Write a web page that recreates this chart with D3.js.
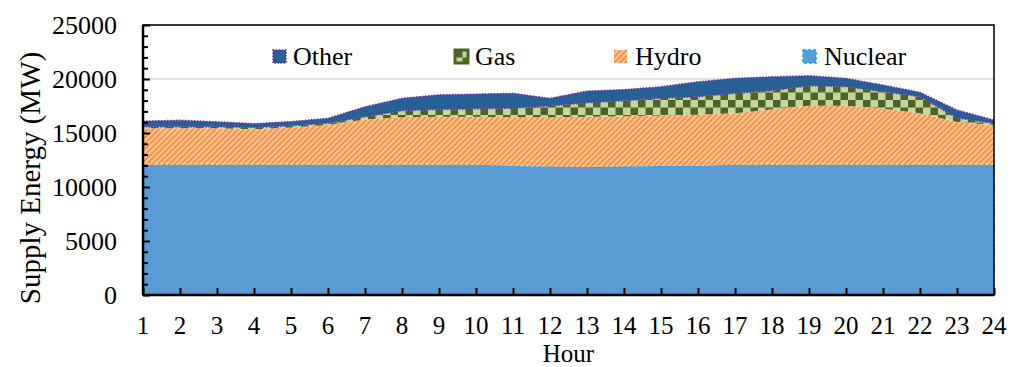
<!DOCTYPE html>
<html>
<head>
<meta charset="utf-8">
<script src="https://cdn.jsdelivr.net/npm/d3@7"></script>
<style>
    body { margin: 0; background: #fff; }
    text { font-family: "Liberation Serif", "Times New Roman", serif; fill: #000; }
</style>
</head>
<body>
<div id="chart"></div>
<script>
// hourly supply by source (MW)
let hours = d3.range(1, 25);
let nuclear = [12050, 12050, 12050, 12050, 12050, 12050, 12050, 12050, 12050, 12050, 11950, 11900,
               11850, 11900, 11950, 11950, 12050, 12050, 12050, 12050, 12050, 12050, 12050, 12050];
let hydro = [3400, 3400, 3400, 3300, 3450, 3700, 4200, 4400, 4450, 4450, 4500, 4550,
             4650, 4650, 4680, 4750, 4770, 5140, 5480, 5480, 5230, 4770, 3970, 3700];
let gas = [130, 130, 130, 160, 160, 150, 250, 620, 680, 740, 840, 1050,
           1300, 1430, 1580, 1660, 1850, 1730, 1850, 1760, 1550, 1540, 370, 150];
let other = [520, 610, 460, 360, 400, 470, 930, 1140, 1360, 1360, 1390, 710,
             1080, 1040, 1080, 1390, 1390, 1290, 930, 770, 610, 410, 740, 300];
let sources = ["Nuclear", "Hydro", "Gas", "Other"];
let yTicks = [0, 5000, 10000, 15000, 20000, 25000];

class SupplyChart {
    constructor(_parentElement) {
        this.parentElement = _parentElement;
        this.data = hours.map((h, i) => ({
            hour: h, Nuclear: nuclear[i], Hydro: hydro[i], Gas: gas[i], Other: other[i]
        }));
        this.initVis();
    }

    initVis() {
        let vis = this;
        vis.margin = { top: 25, right: 16, bottom: 72, left: 143 };
        vis.width = 1010 - vis.margin.left - vis.margin.right;
        vis.height = 367 - vis.margin.top - vis.margin.bottom;

        vis.root = d3.select("#" + vis.parentElement).append("svg")
            .attr("width", 1010)
            .attr("height", 367);

        // fill patterns
        let defs = vis.root.append("defs");
        let hatch = defs.append("pattern")
            .attr("id", "hydroHatch")
            .attr("patternUnits", "userSpaceOnUse")
            .attr("width", 4).attr("height", 4)
            .attr("patternTransform", "rotate(45)");
        hatch.append("rect").attr("width", 4).attr("height", 4).attr("fill", "#FBCBA2");
        hatch.append("rect").attr("width", 2.2).attr("height", 4).attr("fill", "#F79343");

        let check = defs.append("pattern")
            .attr("id", "gasCheck")
            .attr("patternUnits", "userSpaceOnUse")
            .attr("width", 15).attr("height", 15);
        check.append("rect").attr("width", 15).attr("height", 15).attr("fill", "#C3D69B");
        check.append("rect").attr("width", 7.5).attr("height", 7.5).attr("fill", "#4F6228");
        check.append("rect").attr("x", 7.5).attr("y", 7.5).attr("width", 7.5).attr("height", 7.5).attr("fill", "#4F6228");

        vis.style = {
            Nuclear: { fill: "#5B9BD5", stroke: "#00B0F0", dash: "3,2" },
            Hydro: { fill: "url(#hydroHatch)", stroke: "none", dash: null },
            Gas: { fill: "url(#gasCheck)", stroke: "none", dash: null },
            Other: { fill: "#285F94", stroke: "#7030A0", dash: "1.5,1.5" }
        };

        vis.svg = vis.root.append("g")
            .attr("transform", "translate(" + vis.margin.left + "," + vis.margin.top + ")");

        vis.x = d3.scaleLinear().domain([1, 24]).range([0, vis.width]);
        vis.y = d3.scaleLinear().domain([0, 25000]).range([vis.height, 0]);

        // gridlines
        vis.svg.append("g")
            .selectAll("line")
            .data(yTicks.slice(1))
            .enter().append("line")
            .attr("x1", 0).attr("x2", vis.width)
            .attr("y1", d => vis.y(d)).attr("y2", d => vis.y(d))
            .attr("stroke", "#D9D9D9")
            .attr("stroke-width", 1.5);

        vis.areaGroup = vis.svg.append("g");

        vis.wrangleData();
    }

    wrangleData() {
        let vis = this;
        vis.stacked = d3.stack().keys(sources)(vis.data);
        vis.updateVis();
    }

    updateVis() {
        let vis = this;

        let area = d3.area()
            .x(d => vis.x(d.data.hour))
            .y0(d => vis.y(d[0]))
            .y1(d => vis.y(d[1]))
            .curve(d3.curveLinear);

        vis.areaGroup.selectAll("path")
            .data(vis.stacked)
            .enter().append("path")
            .attr("d", area)
            .attr("fill", d => vis.style[d.key].fill)
            .attr("stroke", d => vis.style[d.key].stroke)
            .attr("stroke-width", 1.3)
            .attr("stroke-dasharray", d => vis.style[d.key].dash);

        // frame
        vis.svg.append("rect")
            .attr("width", vis.width).attr("height", vis.height)
            .attr("fill", "none")
            .attr("stroke", "#000")
            .attr("stroke-width", 1.5);

        // y axis (inward ticks)
        let yAxis = d3.axisRight(vis.y)
            .tickValues(yTicks)
            .tickSize(7)
            .tickFormat("");
        let yMinor = d3.axisRight(vis.y)
            .tickValues(d3.range(0, 25001, 1000).filter(d => d % 5000 !== 0))
            .tickSize(5)
            .tickFormat("");
        [yAxis, yMinor].forEach(ax => {
            let g = vis.svg.append("g").call(ax);
            g.select(".domain").remove();
            g.selectAll("line").attr("stroke", "#000").attr("stroke-width", 2);
        });
        vis.svg.append("line")
            .attr("x1", 0).attr("x2", 0).attr("y1", 0).attr("y2", vis.height)
            .attr("stroke", "#000").attr("stroke-width", 2.5);

        vis.svg.append("g")
            .selectAll("text")
            .data(yTicks)
            .enter().append("text")
            .attr("x", -26)
            .attr("y", d => vis.y(d) + 9)
            .attr("text-anchor", "end")
            .style("font-size", "26px")
            .text(d => d);

        // x axis (inward ticks)
        let xAxis = d3.axisTop(vis.x)
            .tickValues(hours)
            .tickSize(7)
            .tickFormat("");
        let gx = vis.svg.append("g")
            .attr("transform", "translate(0," + vis.height + ")")
            .call(xAxis);
        gx.select(".domain").remove();
        gx.selectAll("line").attr("stroke", "#000").attr("stroke-width", 2);
        vis.svg.append("line")
            .attr("x1", 0).attr("x2", vis.width).attr("y1", vis.height).attr("y2", vis.height)
            .attr("stroke", "#000").attr("stroke-width", 2.5);

        vis.svg.append("g")
            .selectAll("text")
            .data(hours)
            .enter().append("text")
            .attr("x", d => vis.x(d))
            .attr("y", vis.height + 38.5)
            .attr("text-anchor", "middle")
            .style("font-size", "25px")
            .text(d => d);

        // axis titles
        vis.svg.append("text")
            .attr("x", vis.width / 2)
            .attr("y", vis.height + 66.5)
            .attr("text-anchor", "middle")
            .style("font-size", "25px")
            .text("Hour");

        vis.root.append("text")
            .attr("transform", "translate(40,178) rotate(-90)")
            .attr("text-anchor", "middle")
            .style("font-size", "29px")
            .text("Supply Energy (MW)");

        // legend
        let legendItems = [
            { key: "Other", x: 273 },
            { key: "Gas", x: 455 },
            { key: "Hydro", x: 614 },
            { key: "Nuclear", x: 803 }
        ];
        let legend = vis.root.append("g")
            .selectAll("g")
            .data(legendItems)
            .enter().append("g")
            .attr("transform", d => "translate(" + d.x + ",50)");
        legend.append("rect")
            .attr("width", 13).attr("height", 13)
            .attr("fill", d => vis.style[d.key].fill)
            .attr("stroke", d => d.key === "Gas" ? "#4F6228" : vis.style[d.key].stroke)
            .attr("stroke-width", d => d.key === "Gas" ? 3 : 1.5)
            .attr("stroke-dasharray", d => vis.style[d.key].dash);
        legend.append("text")
            .attr("x", d => d.key === "Hydro" || d.key === "Nuclear" ? 21 : 20)
            .attr("y", 15)
            .style("font-size", "26px")
            .text(d => d.key);
    }
}

new SupplyChart("chart");
</script>
</body>
</html>
